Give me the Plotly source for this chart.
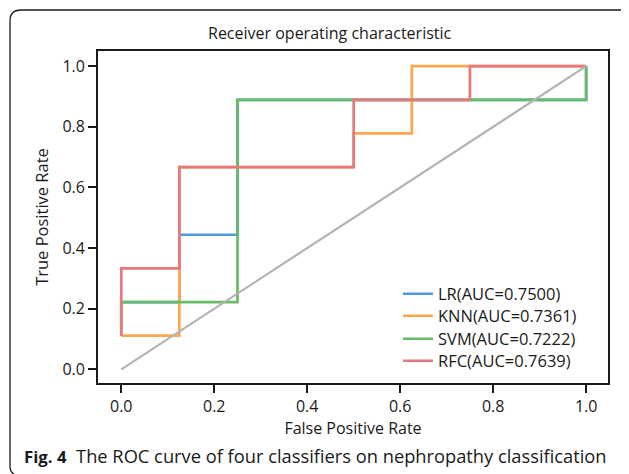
import plotly.graph_objects as go

# ---- data ----
names = ["LR(AUC=0.7500)", "KNN(AUC=0.7361)", "SVM(AUC=0.7222)", "RFC(AUC=0.7639)"]
colors = ["#4f97df", "#ffa64f", "#66bd66", "#e8787c"]
fpr = [
    [0.0, 0.125, 0.125, 0.25, 0.25, 1.0, 1.0],
    [0.0, 0.125, 0.125, 0.5, 0.5, 0.625, 0.625, 1.0],
    [0.0, 0.0, 0.25, 0.25, 1.0, 1.0],
    [0.0, 0.0, 0.125, 0.125, 0.5, 0.5, 0.75, 0.75, 1.0],
]
tpr = [
    [0.222, 0.222, 0.444, 0.444, 0.889, 0.889, 1.0],
    [0.111, 0.111, 0.667, 0.667, 0.778, 0.778, 1.0, 1.0],
    [0.111, 0.222, 0.222, 0.889, 0.889, 1.0],
    [0.111, 0.333, 0.333, 0.667, 0.667, 0.889, 0.889, 1.0, 1.0],
]
diag_x = [0.0, 1.0]
diag_y = [0.0, 1.0]
tick_vals = [0.0, 0.2, 0.4, 0.6, 0.8, 1.0]
tick_text = ["0.0", "0.2", "0.4", "0.6", "0.8", "1.0"]

# page body has an 8px margin; work in window pixels and subtract it
OFF = 8
W, H = 629 - OFF, 474 - OFF
ML, MT = 98 - OFF, 51 - OFF
MR, MB = 629 - 608, 474 - 383
PW, PH = W - ML - MR, H - MT - MB


def px(x):
    return (x - OFF - ML) / PW


def py(y):
    return 1 - (y - OFF - MT) / PH


FONT = "Open Sans"
DARK = "#1a1a1a"

legend_ids = ["legend", "legend2", "legend3", "legend4"]
legend_rows = [294, 316, 339, 361]

fig = go.Figure()
for n, c, xs, ys, lid in zip(names, colors, fpr, tpr, legend_ids):
    fig.add_trace(go.Scatter(x=xs, y=ys, mode="lines", name=n, legend=lid,
                             line=dict(color=c, width=2.7)))
fig.add_trace(go.Scatter(x=diag_x, y=diag_y, mode="lines", showlegend=False,
                         line=dict(color="#b3b3b3", width=2.2)))

axis_common = dict(
    showgrid=False, zeroline=False, showline=True, mirror=True, automargin=False,
    linecolor=DARK, linewidth=1.8, ticks="outside", ticklen=8, tickwidth=1.6,
    tickcolor=DARK, tickvals=tick_vals, ticktext=tick_text,
    tickfont=dict(family=FONT, size=16, color=DARK),
)
fig.update_xaxes(range=[-0.05, 1.047], **axis_common,
                 title=dict(text="False Positive Rate", standoff=7,
                            font=dict(family=FONT, size=16, color=DARK)))
fig.update_yaxes(range=[-0.045, 1.05], **axis_common,
                 title=dict(text="True Positive Rate", standoff=10,
                            font=dict(family=FONT, size=16.5, color=DARK)))

legend_layout = {}
for lid, row in zip(legend_ids, legend_rows):
    legend_layout[lid] = dict(x=px(398), y=py(row), xanchor="left", yanchor="middle",
                              bgcolor="rgba(0,0,0,0)", borderwidth=0,
                              font=dict(family=FONT, size=16.5, color=DARK))

fig.update_layout(
    width=W, height=H,
    margin=dict(l=ML, r=MR, t=MT, b=MB, autoexpand=False),
    paper_bgcolor="white", plot_bgcolor="white",
    font=dict(family=FONT, color=DARK),
    **legend_layout,
    annotations=[
        dict(text="Receiver operating characteristic", xref="paper", yref="paper",
             x=px(330), y=py(33), xanchor="center", yanchor="middle",
             showarrow=False, font=dict(family=FONT, size=16, color=DARK)),
        dict(text=("<span style='font-size:16.8px'><b>Fig. 4</b></span>  "
                   "The ROC curve of four classifiers on nephropathy classification"),
             xref="paper", yref="paper", x=px(22), y=py(455),
             xanchor="left", yanchor="middle", showarrow=False,
             font=dict(family=FONT, size=18.3, color=DARK)),
    ],
    shapes=[
        dict(type="path", xref="paper", yref="paper",
             path=(f"M {px(14)},{py(474)} Q {px(10)},{py(472)} {px(10)},{py(466)} "
                   f"L {px(10)},{py(21)} Q {px(10)},{py(10)} {px(21)},{py(10)} "
                   f"L {px(620)},{py(10)} Q {px(627)},{py(10)} {px(629)},{py(14)}"),
             line=dict(color=DARK, width=1.3), layer="above"),
    ],
)

fig.write_html("out.html")
